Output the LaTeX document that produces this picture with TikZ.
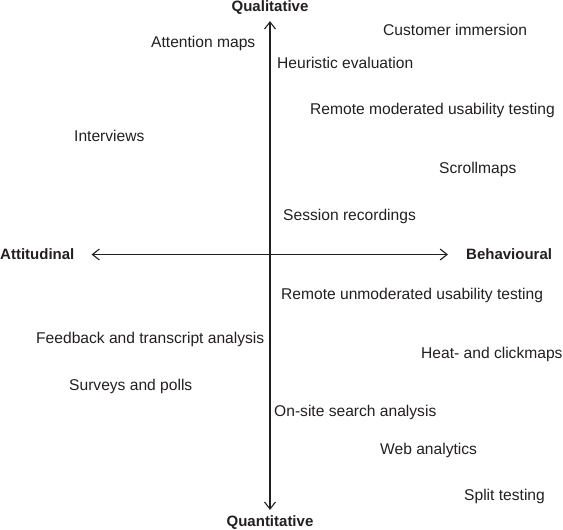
\documentclass[tikz,border=0pt]{standalone}
\usepackage{fontspec}
\setmainfont{Liberation Sans}
\usetikzlibrary{arrows.meta}
\definecolor{inkgray}{RGB}{35,31,32}
\tikzset{
  meth/.style={anchor=west, inner sep=0pt, text=inkgray, font=\fontsize{15.6}{18}\selectfont},
  axlbl/.style={inner sep=0pt, text=inkgray, font=\fontsize{15}{18}\selectfont\bfseries},
  axis/.style={{Straight Barb[length=7pt,width=11pt]}-{Straight Barb[length=7pt,width=11pt]},
               line width=1.1pt, draw=inkgray},
}

\begin{document}
\begin{tikzpicture}[x=1pt,y=-1pt]
\useasboundingbox (0,0) rectangle (563,530);

% ================= axis labels =================
\node[axlbl] (qual)  at (270,8)   {Qualitative};
\node[axlbl] (quant) at (270,523) {Quantitative};
\node[axlbl, anchor=west] (att) at (0,254.5)   {Attitudinal};
\node[axlbl, anchor=west] (beh) at (466,254.5) {Behavioural};

% ================= axes =================
\draw[axis, shorten <=6pt, shorten >=6pt] (qual.south) -- (quant.north);
\draw[axis, shorten <=17pt, shorten >=18pt] (att.east) -- (beh.west);

% ================= methods, upper half =================
\node[meth] (custimm) at (383,29.5)  {Customer immersion};
\node[meth] (attmaps) at (151,43.5)  {Attention maps};
\node[meth] (heur)    at (277,62.5)  {Heuristic evaluation};
\node[meth] (remmod)  at (310,110.5) {Remote moderated usability testing};
\node[meth] (interv)  at (74,135.5)  {Interviews};
\node[meth] (scroll)  at (439,169.5) {Scrollmaps};
\node[meth] (sessrec) at (283,216.5) {Session recordings};

% ================= methods, lower half =================
\node[meth] (remunm)  at (281,295.5) {Remote unmoderated usability testing};
\node[meth] (feedb)   at (36,339.5)  {Feedback and transcript analysis};
\node[meth] (heatcl)  at (421,354.5) {Heat- and clickmaps};
\node[meth] (surveys) at (69,386.5)  {Surveys and polls};
\node[meth] (onsite)  at (274,412.5) {On-site search analysis};
\node[meth] (webana)  at (380,450.5) {Web analytics};
\node[meth] (split)   at (464,496.5) {Split testing};

\end{tikzpicture}
\end{document}
